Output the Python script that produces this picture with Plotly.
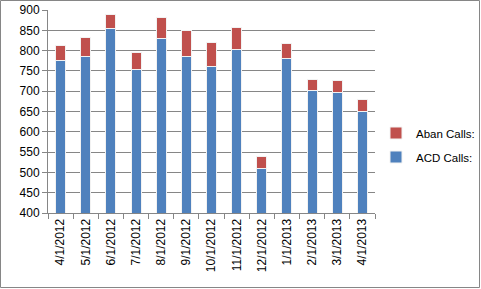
import plotly.graph_objects as go

dates = ["4/1/2012", "5/1/2012", "6/1/2012", "7/1/2012", "8/1/2012", "9/1/2012",
         "10/1/2012", "11/1/2012", "12/1/2012", "1/1/2013", "2/1/2013", "3/1/2013", "4/1/2013"]
acd_calls = [776, 786, 855, 753, 830, 786, 761, 802, 510, 780, 702, 698, 649]
aban_calls = [37, 46, 35, 43, 51, 63, 58, 54, 29, 37, 28, 28, 30]

W, H = 481, 289
L, R, T, B = 48, 106, 10, 76
pw, ph = W - L - R, H - T - B

fig = go.Figure()
fig.add_trace(go.Bar(x=dates, y=acd_calls, name="ACD Calls:", legendgroup="acd", legendrank=2,
                     marker=dict(color="#4F81BD", line=dict(color="#F2F2F2", width=1))))
fig.add_trace(go.Bar(x=dates, y=aban_calls, name="Aban Calls:", legendgroup="aban", legendrank=1,
                     marker=dict(color="#C0504D", line=dict(color="#F2F2F2", width=1))))

fig.update_layout(
    barmode="stack", bargap=0.6,
    width=W, height=H,
    margin=dict(l=L, r=R, t=T, b=B, autoexpand=False),
    paper_bgcolor="white", plot_bgcolor="white",
    font=dict(family="Liberation Sans, Arial, sans-serif", color="#000000"),
    showlegend=True,
    legend=dict(x=(376 - L) / pw, y=(T + ph - 145) / ph, xanchor="left", yanchor="middle",
                traceorder="grouped", font=dict(size=11.5), itemwidth=30,
                bgcolor="rgba(0,0,0,0)", tracegroupgap=5),
    xaxis=dict(type="category", tickangle=-90, tickfont=dict(size=12),
               showline=True, linecolor="#868686", linewidth=1,
               ticks="outside", tickson="boundaries", ticklen=5, tickcolor="#868686",
               showgrid=False, automargin=False),
    yaxis=dict(range=[400, 900], dtick=50, tickfont=dict(size=12),
               showline=True, linecolor="#868686", linewidth=1,
               ticks="outside", ticklen=5, tickcolor="#868686",
               showgrid=True, gridcolor="#868686", gridwidth=1, zeroline=False,
               automargin=False),
    shapes=[dict(type="rect", xref="paper", yref="paper",
                 x0=(0.5 - L) / pw, x1=(W - 1.5 - L) / pw,
                 y0=-(B - 1.5) / ph, y1=(ph + T - 0.5) / ph,
                 line=dict(color="#868686", width=1), layer="above")],
)

fig.write_html("out.html")
